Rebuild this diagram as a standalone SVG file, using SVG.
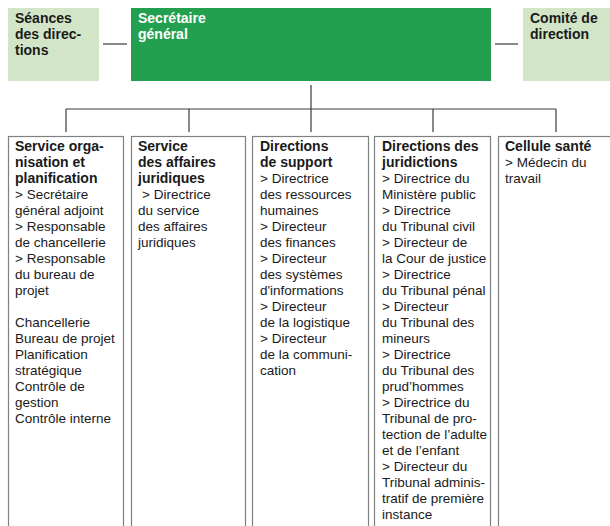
<svg xmlns="http://www.w3.org/2000/svg" width="610" height="526" viewBox="0 0 610 526">
  <style>
    text { font-family: "Liberation Sans", Arial, sans-serif; font-size: 13.5px; fill: #1a1a1a; }
    .b { font-weight: bold; font-size: 14px; }
    .w { fill: #ffffff; font-weight: bold; font-size: 14px; }
    .side { fill: #d2e5c7; }
    .main { fill: #22a050; }
    .unit { fill: #ffffff; stroke: #808080; stroke-width: 1.2; }
    .link { fill: none; stroke: #3a3a3a; stroke-width: 1.2; }
  </style>

  <!-- connectors -->
  <g id="connectors">
    <line class="link" x1="103" y1="44" x2="127" y2="44"/>
    <line class="link" x1="495" y1="44" x2="518" y2="44"/>
    <line class="link" x1="311" y1="85" x2="311" y2="132"/>
    <line class="link" x1="66" y1="109" x2="556" y2="109"/>
    <line class="link" x1="66" y1="109" x2="66" y2="132"/>
    <line class="link" x1="189" y1="109" x2="189" y2="132"/>
    <line class="link" x1="433" y1="109" x2="433" y2="132"/>
    <line class="link" x1="556" y1="109" x2="556" y2="132"/>
  </g>

  <!-- top row -->
  <g id="seances">
    <rect class="side" x="8" y="8" width="91" height="73"/>
    <text class="b" x="15" y="23">Séances</text>
    <text class="b" x="15" y="39">des direc-</text>
    <text class="b" x="15" y="55">tions</text>
  </g>
  <g id="secretaire">
    <rect class="main" x="131" y="8" width="360" height="73"/>
    <text class="w" x="138" y="23">Secrétaire</text>
    <text class="w" x="138" y="39">général</text>
  </g>
  <g id="comite">
    <rect class="side" x="523" y="8" width="90" height="73"/>
    <text class="b" x="530" y="23">Comité de</text>
    <text class="b" x="530" y="39">direction</text>
  </g>

  <!-- units -->
  <g id="organisation">
    <rect class="unit" x="8.5" y="136.5" width="115" height="400"/>
    <text class="b" x="15" y="151">Service orga-</text>
    <text class="b" x="15" y="167">nisation et</text>
    <text class="b" x="15" y="183">planification</text>
    <text x="15" y="199">&gt; Secrétaire</text>
    <text x="15" y="215">général adjoint</text>
    <text x="15" y="231">&gt; Responsable</text>
    <text x="15" y="247">de chancellerie</text>
    <text x="15" y="263">&gt; Responsable</text>
    <text x="15" y="279">du bureau de</text>
    <text x="15" y="295">projet</text>
    <text x="15" y="327">Chancellerie</text>
    <text x="15" y="343">Bureau de projet</text>
    <text x="15" y="359">Planification</text>
    <text x="15" y="375">stratégique</text>
    <text x="15" y="391">Contrôle de</text>
    <text x="15" y="407">gestion</text>
    <text x="15" y="423">Contrôle interne</text>
  </g>
  <g id="affaires-juridiques">
    <rect class="unit" x="131.5" y="136.5" width="114" height="400"/>
    <text class="b" x="138" y="151">Service</text>
    <text class="b" x="138" y="167">des affaires</text>
    <text class="b" x="138" y="183">juridiques</text>
    <text x="142" y="199">&gt; Directrice</text>
    <text x="138" y="215">du service</text>
    <text x="138" y="231">des affaires</text>
    <text x="138" y="247">juridiques</text>
  </g>
  <g id="support">
    <rect class="unit" x="252.5" y="136.5" width="116" height="400"/>
    <text class="b" x="260" y="151">Directions</text>
    <text class="b" x="260" y="167">de support</text>
    <text x="260" y="183">&gt; Directrice</text>
    <text x="260" y="199">des ressources</text>
    <text x="260" y="215">humaines</text>
    <text x="260" y="231">&gt; Directeur</text>
    <text x="260" y="247">des finances</text>
    <text x="260" y="263">&gt; Directeur</text>
    <text x="260" y="279">des systèmes</text>
    <text x="260" y="295">d'informations</text>
    <text x="260" y="311">&gt; Directeur</text>
    <text x="260" y="327">de la logistique</text>
    <text x="260" y="343">&gt; Directeur</text>
    <text x="260" y="359">de la communi-</text>
    <text x="260" y="375">cation</text>
  </g>
  <g id="juridictions">
    <rect class="unit" x="374.5" y="136.5" width="116" height="400"/>
    <text class="b" x="382" y="151">Directions des</text>
    <text class="b" x="382" y="167">juridictions</text>
    <text x="382" y="183">&gt; Directrice du</text>
    <text x="382" y="199">Ministère public</text>
    <text x="382" y="215">&gt; Directrice</text>
    <text x="382" y="231">du Tribunal civil</text>
    <text x="382" y="247">&gt; Directeur de</text>
    <text x="382" y="263">la Cour de justice</text>
    <text x="382" y="279">&gt; Directrice</text>
    <text x="382" y="295">du Tribunal pénal</text>
    <text x="382" y="311">&gt; Directeur</text>
    <text x="382" y="327">du Tribunal des</text>
    <text x="382" y="343">mineurs</text>
    <text x="382" y="359">&gt; Directrice</text>
    <text x="382" y="375">du Tribunal des</text>
    <text x="382" y="391">prud’hommes</text>
    <text x="382" y="407">&gt; Directrice du</text>
    <text x="382" y="423">Tribunal de pro-</text>
    <text x="382" y="439">tection de l’adulte</text>
    <text x="382" y="455">et de l’enfant</text>
    <text x="382" y="471">&gt; Directeur du</text>
    <text x="382" y="487">Tribunal adminis-</text>
    <text x="382" y="503">tratif de première</text>
    <text x="382" y="519">instance</text>
  </g>
  <g id="sante">
    <rect class="unit" x="498.5" y="136.5" width="120" height="400"/>
    <text class="b" x="505" y="151">Cellule santé</text>
    <text x="505" y="167">&gt; Médecin du</text>
    <text x="505" y="183">travail</text>
  </g>
</svg>
